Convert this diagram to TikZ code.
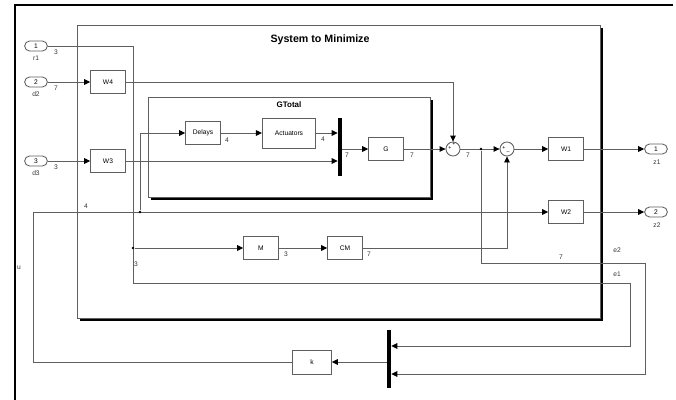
\documentclass[tikz,border=0pt]{standalone}
\usepackage{fontspec}
\setmainfont{Liberation Sans}
\usetikzlibrary{arrows.meta,calc}
\definecolor{lc}{RGB}{95,95,95}
\definecolor{bc}{RGB}{95,95,95}
\begin{document}
\begin{tikzpicture}[x=0.75pt,y=-0.75pt,
  wire/.style={draw=lc, line width=0.65pt},
  sig/.style={wire,-{Triangle[length=4.5pt,width=4.2pt,color=black]}},
  blk/.style={draw=bc, line width=0.65pt, fill=white, minimum width=26pt, minimum height=17pt, inner sep=0pt, font=\fontsize{5}{6}\selectfont},
  port/.style={draw=bc, line width=0.65pt, fill=white, rounded corners=3.7pt, minimum width=17pt, minimum height=7.5pt, inner sep=0pt, font=\fontsize{5}{6}\selectfont},
  muxbar/.style={fill=black, draw=none, minimum width=3pt, inner sep=0pt},
  sumblk/.style={circle, draw=bc, line width=0.65pt, fill=white, minimum size=10.5pt, inner sep=0pt},
  lab/.style={font=\fontsize{5}{6}\selectfont, inner sep=0pt, text=black!80},
  sgn/.style={font=\fontsize{4}{4}\selectfont, inner sep=0pt},
  jdot/.style={circle, fill=black, minimum size=2pt, inner sep=0pt},
  shadowbox/.style={fill=black, draw=none, inner sep=0pt, anchor=north west},
  subbox/.style={draw=bc, fill=white, line width=0.65pt, inner sep=0pt, anchor=north west}]
\useasboundingbox (0,0) rectangle (676,400);
% window frame
\draw[line width=1.4pt] (15,400) -- (15,5) -- (673,5);
% System to Minimize subsystem
\node[shadowbox, minimum width=392.25pt, minimum height=219.75pt] (sysshadow) at (80,28) {};
\node[subbox, minimum width=392.25pt, minimum height=219.75pt] (sys) at (77,25) {};
\node[font=\bfseries\fontsize{8}{9}\selectfont] (systitle) at (320,40) {System to Minimize};
% GTotal subsystem
\node[shadowbox, minimum width=211.5pt, minimum height=75pt] (gshadow) at (151,100) {};
\node[subbox, minimum width=211.5pt, minimum height=75pt] (gtot) at (148,97) {};
\node[font=\bfseries\fontsize{6}{7}\selectfont] (gtitle) at (289,105) {GTotal};
% ports
\node[port] (in1) at (36,46) {1};
\node[port] (in2) at (36,82) {2};
\node[port] (in3) at (36,161) {3};
\node[port] (out1) at (656,149) {1};
\node[port] (out2) at (656,212) {2};
\node[lab] (lr1) at (36,58) {r1};
\node[lab] (ld2) at (36,94) {d2};
\node[lab] (ld3) at (36,173) {d3};
\node[lab] (lz1) at (657,162) {z1};
\node[lab] (lz2) at (657,225) {z2};
% blocks
\node[blk] (W4) at (108,82) {W4};
\node[blk] (W3) at (108,161) {W3};
\node[blk] (Delays) at (203,133) {Delays};
\node[blk, minimum width=40pt, minimum height=22.5pt] (Act) at (289,133) {Actuators};
\node[muxbar, minimum height=43pt] (mux1) at (340,147) {};
\node[blk] (G) at (386,149) {G};
\node[sumblk] (sum1) at (453,149) {};
\node[sumblk] (sum2) at (507,149) {};
\node[sgn] at (450,148) {+};
\node[sgn] at (454,144) {+};
\node[sgn] at (504,148) {+};
\node[sgn] at (508,153) {--};
\node[blk] (W1) at (566,149) {W1};
\node[blk] (W2) at (566,212) {W2};
\node[blk] (M) at (261,248) {M};
\node[blk] (CM) at (345,248) {CM};
\node[muxbar, minimum height=43.5pt] (mux2) at (389,359) {};
\node[blk, minimum width=29pt, minimum height=18pt] (k) at (312,362) {k};
% connectors
\draw[sig] (in1.east) -- (133,46) -- (133,283) -- (630,283) -- (630,346) -- ($(mux2.east)+(0,-13)$);
\node[jdot] (j1) at (133,248) {};
\draw[sig] (j1) -- (M.west);
\draw[sig] (in2.east) -- (W4.west);
\draw[sig] (W4.east) -| (sum1.north);
\draw[sig] (in3.east) -- (W3.west);
\draw[sig] (W3.east) -- ($(mux1.west)+(0,14)$);
\draw[sig] (Delays.east) -- (Act.west);
\draw[sig] (Act.east) -- ($(mux1.west)+(0,-14)$);
\draw[sig] ($(mux1.east)+(0,2)$) -- (G.west);
\draw[sig] (G.east) -- (sum1.west);
\draw[sig] (sum1.east) -- (sum2.west);
\node[jdot] (j2) at (481,149) {};
\draw[sig] (j2) -- (481,263) -- (645,263) -- (645,374) -- ($(mux2.east)+(0,15)$);
\draw[sig] (sum2.east) -- (W1.west);
\draw[sig] (W1.east) -- (out1.west);
\draw[sig] (W2.east) -- (out2.west);
\draw[sig] (M.east) -- (CM.west);
\draw[sig] (CM.east) -| (sum2.south);
\draw[sig] ($(mux2.west)+(0,3)$) -- (k.east);
\draw[sig] (k.west) -- (33,362) -- (33,212) -- (W2.west);
\node[jdot] (j3) at (140,212) {};
\draw[sig] (j3) -- (140,133) -- (Delays.west);
% signal labels
\node[lab] at (56,52) {3};
\node[lab] at (56,88) {7};
\node[lab] at (56,167) {3};
\node[lab] at (227,140) {4};
\node[lab] at (323,139) {4};
\node[lab] at (347,155) {7};
\node[lab] at (412,155) {7};
\node[lab] at (468,155) {7};
\node[lab] at (286,254) {3};
\node[lab] at (369,254) {7};
\node[lab] at (136,264) {3};
\node[lab] at (86,206) {4};
\node[lab] at (19,268) {u};
\node[lab] at (561,257) {7};
\node[lab] at (617,250) {e2};
\node[lab] at (617,274) {e1};
\end{tikzpicture}
\end{document}
